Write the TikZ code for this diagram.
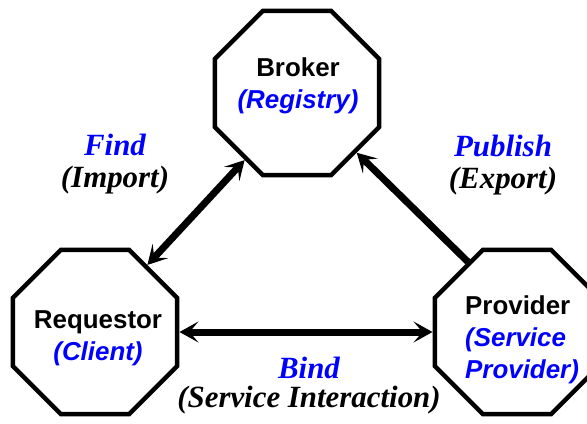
\documentclass[tikz,border=0pt]{standalone}
\usepackage{fontspec}
\setmainfont{Liberation Serif}
\setsansfont{Liberation Sans}
\usetikzlibrary{arrows.meta}
\usetikzlibrary{shapes.geometric}

\newcommand{\altname}[1]{{\color{blue}\itshape #1}}

\begin{document}
\begin{tikzpicture}[x=1bp, y=1bp,
  line/.style={line width=7bp, >={Stealth[length=19bp, width=21bp, inset=9bp]}},
  octagon/.style={draw, line width=4.5bp, regular polygon, regular polygon sides=8, minimum size=178bp, inner sep=0pt},
  role/.style={font=\sffamily\bfseries\fontsize{26}{32}\selectfont, inner sep=0pt},
  verb/.style={font=\rmfamily\bfseries\itshape\fontsize{31}{32}\selectfont, align=center, inner sep=0pt}]
\useasboundingbox (0, 0) rectangle (587, 423);

\node[octagon] (broker) at (297, 330) {};
\node[octagon] (requestor) at (95, 91) {};
\node[octagon] (provider) at (517, 91) {};

\node[role, align=center] (brokertext) at (298, 337) {Broker\\\altname{(Registry)}};
\node[role, align=center] (requestortext) at (98, 85) {Requestor\\\altname{(Client)}};
\node[role, align=left, anchor=west] (providertext) at (465, 83) {Provider\\\altname{(Service}\\\altname{Provider)}};

\draw[<->, line] (broker.232) -- (requestor.52);
\draw[->, line] (provider.125) -- (broker.-45);
\draw[<->, line] (requestor.east) -- (provider.west);

\node[verb] (findlabel) at (115, 259) {{\color{blue}Find}\\(Import)};
\node[verb] (publishlabel) at (503, 258) {{\color{blue}Publish}\\(Export)};
\node[verb] (bindlabel) at (309, 37) {{\color{blue}Bind}\\[-3pt](Service Interaction)};
\end{tikzpicture}
\end{document}
